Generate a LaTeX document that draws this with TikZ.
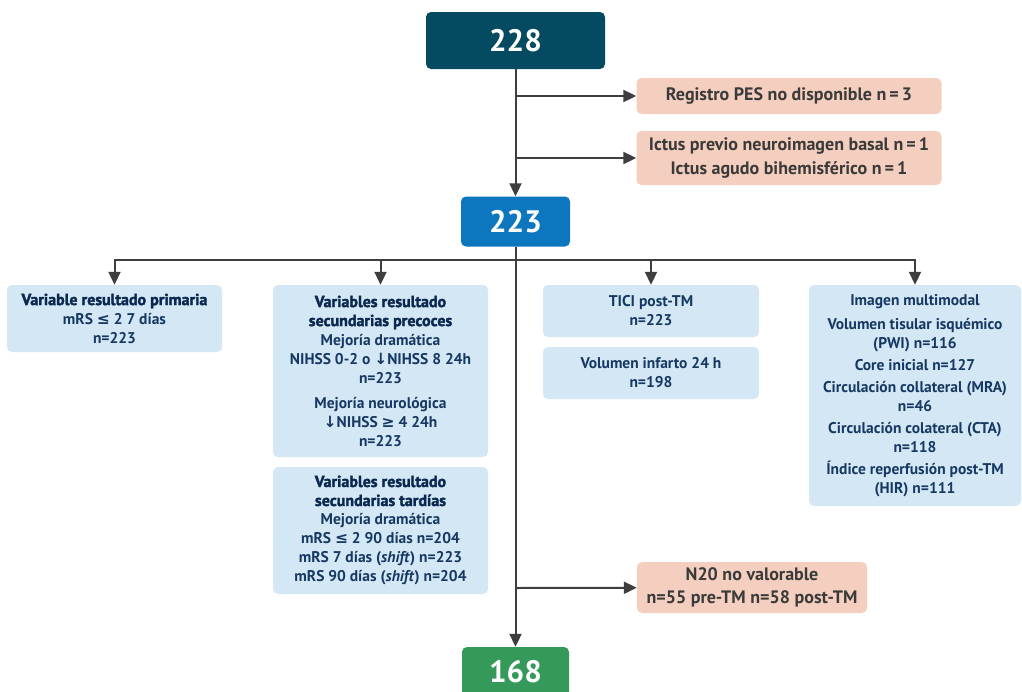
\documentclass[tikz,border=0pt]{standalone}
\usepackage{fontspec}
\setmainfont{PT Sans}
\newfontfamily\symfont{DejaVu Sans}
\newfontfamily\heavyfont{PT Sans}[BoldFeatures={FakeBold=2}]
\usetikzlibrary{arrows.meta}

\definecolor{darkteal}{RGB}{4,74,96}
\definecolor{midblue}{RGB}{12,119,190}
\definecolor{okgreen}{RGB}{53,153,90}
\definecolor{salmon}{RGB}{244,206,190}
\definecolor{paleblue}{RGB}{211,232,244}
\definecolor{navy}{RGB}{22,56,98}
\definecolor{titlenavy}{RGB}{10,40,80}
\definecolor{graytext}{RGB}{58,58,58}
\definecolor{arrowgray}{RGB}{62,62,62}

\newcommand{\lesign}{{\symfont ≤}}
\newcommand{\gesign}{{\symfont ≥}}
\newcommand{\downsign}{{\symfont ↓}}
\newcommand{\ttl}[1]{{\heavyfont\bfseries\fontsize{16}{19}\selectfont\color{titlenavy}#1}}

\begin{document}
\begin{tikzpicture}[x=1pt,y=-1pt,
  box/.style={rounded corners=5pt,inner sep=2pt,align=center,
    font=\bfseries\fontsize{15.5}{19}\selectfont},
  numbox/.style={box,text=white,font=\bfseries\fontsize{31}{32}\selectfont},
  exclbox/.style={box,fill=salmon,text=graytext,font=\bfseries\fontsize{18}{23.5}\selectfont},
  varbox/.style={box,fill=paleblue,text=navy},
  arr/.style={draw=arrowgray,line width=2pt,-{Triangle[length=13pt,width=12pt]}},
  link/.style={draw=arrowgray,line width=2pt,line cap=rect}]
\useasboundingbox (0,0) rectangle (1022,691);
\clip (0,0) rectangle (1022,691);

% cohort
\node[numbox,fill=darkteal,minimum width=179pt,minimum height=57pt] (n228) at (515.5,40.5) {228};
\node[numbox,fill=midblue,minimum width=109pt,minimum height=50pt] (n223) at (515.5,221.5) {223};
\node[numbox,fill=okgreen,minimum width=107pt,minimum height=50pt] (n168) at (515.5,672) {168};

% exclusions
\node[exclbox,minimum width=305pt,minimum height=36pt] (ex1) at (789,96) {Registro PES no disponible n\,=\,3};
\node[exclbox,minimum width=305pt,minimum height=54pt] (ex2) at (789,158) {Ictus previo neuroimagen basal n\,=\,1\\Ictus agudo bihemisférico n\,=\,1};
\node[exclbox,minimum width=230pt,minimum height=51pt] (ex3) at (752,587.5) {N20 no valorable\\n=55 pre-TM n=58 post-TM};

% outcome variables
\node[varbox,minimum width=215pt,minimum height=67pt] (vA) at (114.5,318.5) {\ttl{Variable resultado primaria}\\mRS \lesign{} 2 7 días\\n=223};
\node[varbox,minimum width=215pt,minimum height=172pt] (vB) at (380.5,371) {\ttl{Variables resultado}\\\ttl{secundarias precoces}\\Mejoría dramática\\NIHSS 0-2 o \downsign NIHSS 8 24h\\n=223\\[6pt]Mejoría neurológica\\\downsign NIHSS \gesign{} 4 24h\\n=223};
\node[varbox,minimum width=215pt,minimum height=127pt] (vC) at (380.5,530.5) {\ttl{Variables resultado}\\\ttl{secundarias tardías}\\Mejoría dramática\\mRS \lesign{} 2 90 días n=204\\mRS 7 días (\textit{shift}) n=223\\mRS 90 días (\textit{shift}) n=204};
\node[varbox,minimum width=216pt,minimum height=52pt] (vD) at (651,311) {TICI post-TM\\n=223};
\node[varbox,minimum width=216pt,minimum height=52pt] (vE) at (651,373) {Volumen infarto 24 h\\n=198};
\node[varbox,minimum width=212pt,minimum height=221pt] (vF) at (915,395.5) {Imagen multimodal\\[5pt]Volumen tisular isquémico\\(PWI) n=116\\[3pt]Core inicial n=127\\[3pt]Circulación collateral (MRA)\\n=46\\[3pt]Circulación colateral (CTA)\\n=118\\[3pt]Índice reperfusión post-TM\\(HIR) n=111};

% connectors
\coordinate (t1) at (515.5,96);
\coordinate (t2) at (515.5,158);
\coordinate (t3) at (515.5,588);
\coordinate (hb) at (515.5,260);

\draw[arr] (n228) -- (n223);
\draw[arr] (t1) -- (ex1);
\draw[arr] (t2) -- (ex2);

\draw[arr] (n223) -- (n168);
\draw[arr] (t3) -- (ex3);

\draw[link] (vA.north |- hb) -- (vF.north |- hb);
\draw[arr] (vA.north |- hb) -- (vA);
\draw[arr] (vB.north |- hb) -- (vB);
\draw[arr] (vD.north |- hb) -- (vD);
\draw[arr] (vF.north |- hb) -- (vF);
\end{tikzpicture}
\end{document}
